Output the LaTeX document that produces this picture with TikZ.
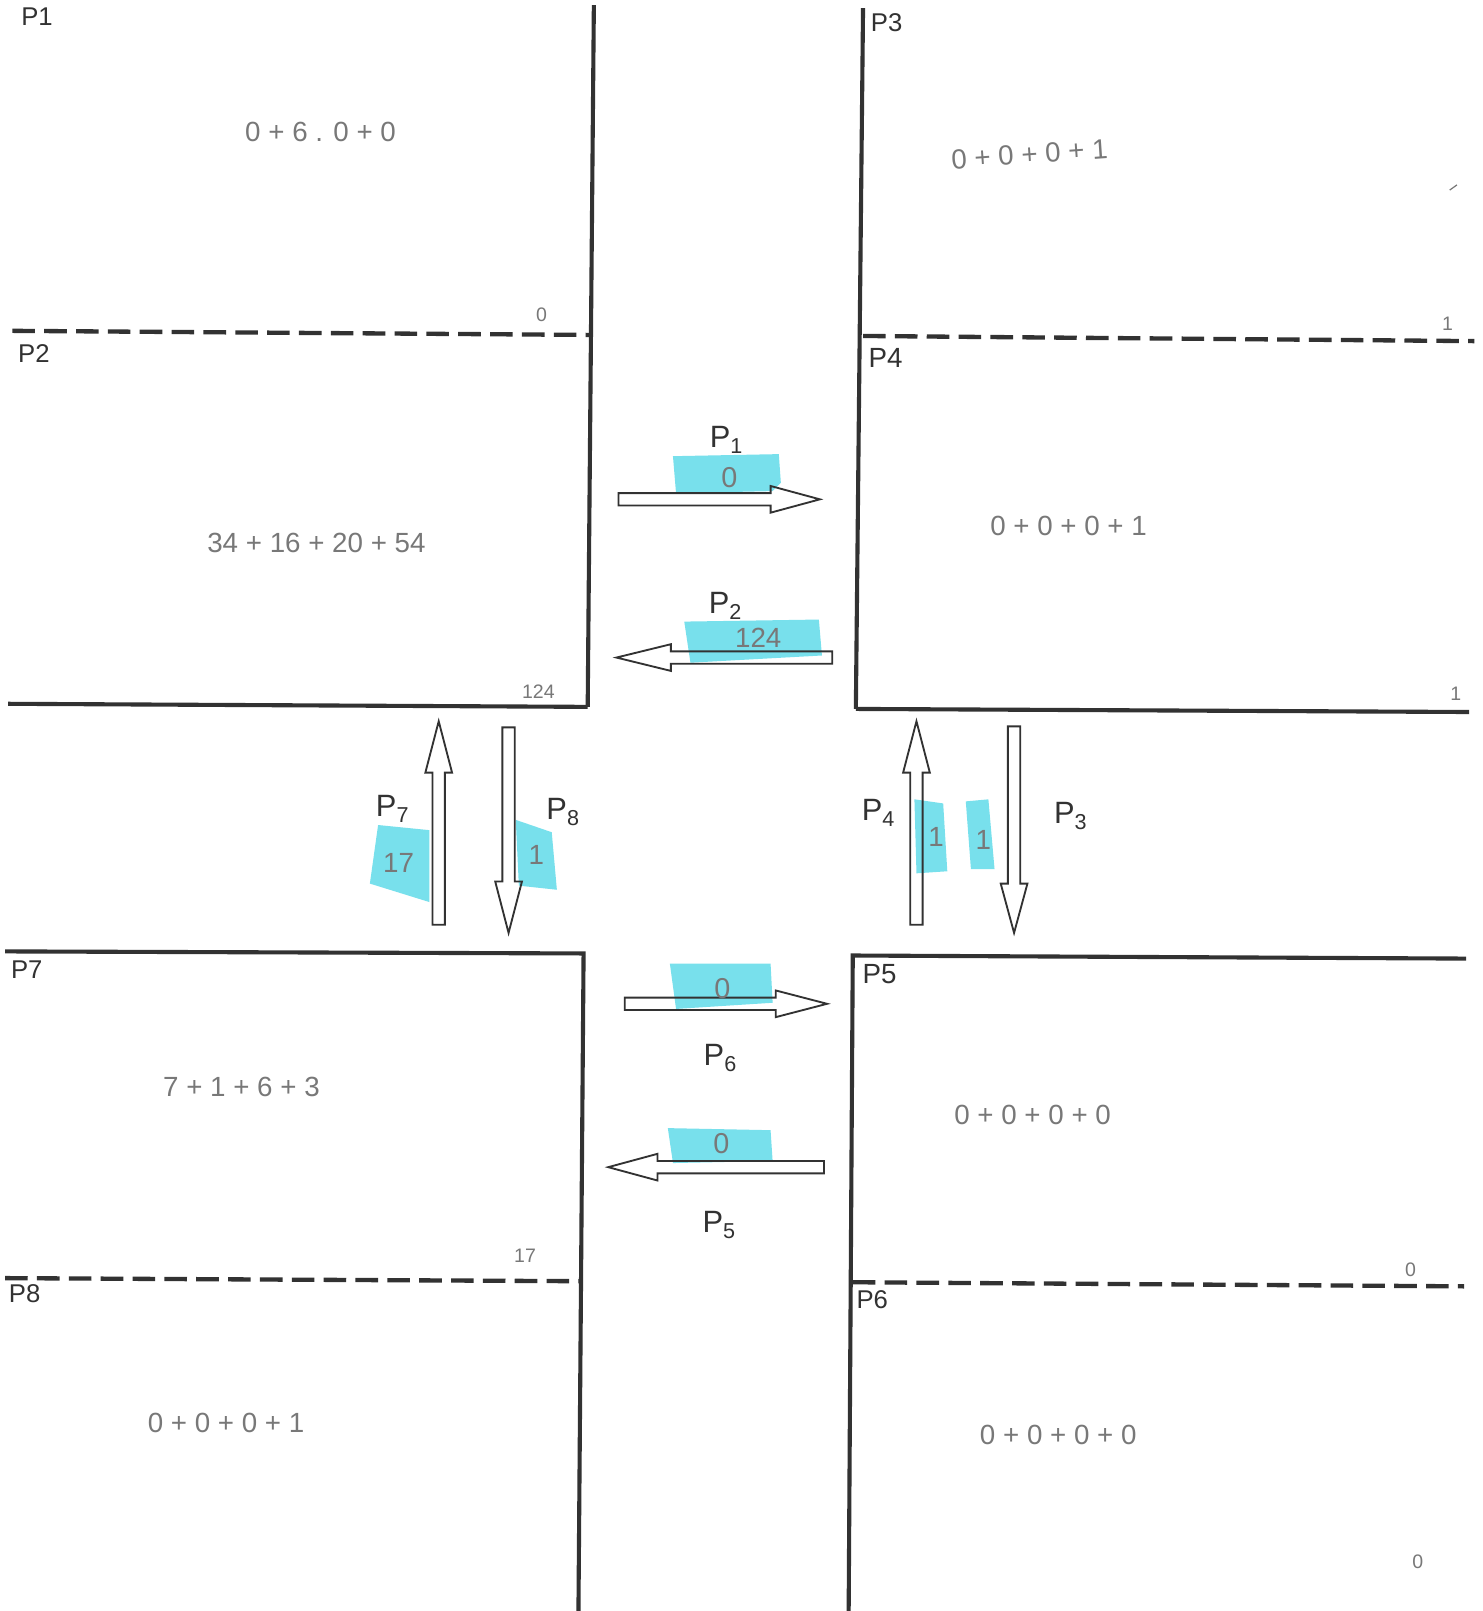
\documentclass[tikz,border=0pt]{standalone}
\usepackage{fontspec}
\setmainfont{Liberation Sans}
\definecolor{ink}{RGB}{50,50,50}
\definecolor{pencil}{RGB}{120,120,120}
\definecolor{hl}{RGB}{120,224,236}
\newcommand{\harr}[4]{\draw[arr] (#1,#4-6)--(#2,#4-6)--(#2,#4-13)--(#3,#4)--(#2,#4+13)--(#2,#4+6)--(#1,#4+6)--cycle;}
\newcommand{\varr}[4]{\draw[arr] (#4-6,#1)--(#4-6,#2)--(#4-13,#2)--(#4,#3)--(#4+13,#2)--(#4+6,#2)--(#4+6,#1)--cycle;}
\begin{document}
\begin{tikzpicture}[x=1pt,y=-1pt,
  wall/.style={draw=ink,line width=4pt},
  divider/.style={draw=ink,line width=4.2pt,dash pattern=on 22pt off 9pt},
  arr/.style={draw=ink,line width=1.8pt,line join=miter},
  blk/.style={font=\fontsize{25}{25}\selectfont,text=ink,inner sep=0pt},
  flow/.style={font=\fontsize{30}{30}\selectfont,text=ink,inner sep=0pt},
  hand/.style={font=\fontsize{27}{27}\selectfont,text=pencil,inner sep=0pt},
  small/.style={font=\fontsize{19}{19}\selectfont,text=pencil,inner sep=0pt},
  hlmark/.style={fill=hl,draw=none}]
\useasboundingbox (0,0) rectangle (1443,1568);
\fill[white] (0,0) rectangle (1443,1568);

% ---- blocks ----
% top-left
\draw[wall] (578,5) -- (572,688);
\draw[wall] (8,685) -- (572,688);
\draw[divider] (12,322) -- (575,326);
% top-right
\draw[wall] (840,8) -- (833,690);
\draw[wall] (833,690) -- (1430,693);
\draw[divider] (840,327) -- (1435,332);
% bottom-left
\draw[wall] (5,926) -- (568,928) -- (563,1568);
\draw[divider] (5,1244) -- (565,1247);
% bottom-right
\draw[wall] (1427,933) -- (830,930) -- (826,1568);
\draw[divider] (830,1248) -- (1425,1252);

% ---- block labels ----
\node[blk] (lP1) at (36,16) {P1};
\node[blk] (lP2) at (33,344) {P2};
\node[blk] (lP3) at (863,22) {P3};
\node[blk,font=\fontsize{27}{27}\selectfont] (lP4) at (862,348) {P4};
\node[blk,font=\fontsize{27}{27}\selectfont] (lP5) at (856,948) {P5};
\node[blk] (lP6) at (849,1265) {P6};
\node[blk] (lP7) at (26,944) {P7};
\node[blk] (lP8) at (24,1259) {P8};

% ---- handwritten sums ----
\node[hand] (s1) at (312,128) {0 + 6 . 0 + 0};
\node[small] (c1) at (527,306) {0};
\node[hand] (s2) at (308,528) {34 + 16 + 20 + 54};
\node[small] (c2) at (524,673) {124};
\node[hand,rotate=4] (s3) at (1002,150) {0 + 0 + 0 + 1};
\draw[pencil,line width=1.2pt] (1411,185) -- (1418,180);
\node[small] (c3) at (1409,315) {1};
\node[hand] (s4) at (1040,512) {0 + 0 + 0 + 1};
\node[small] (c4) at (1417,675) {1};
\node[hand] (s5) at (1005,1085) {0 + 0 + 0 + 0};
\node[small] (c5) at (1373,1236) {0};
\node[hand] (s6) at (1030,1397) {0 + 0 + 0 + 0};
\node[small] (c6) at (1380,1520) {0};
\node[hand] (s7) at (235,1058) {7 + 1 + 6 + 3};
\node[small] (c7) at (511,1222) {17};
\node[hand] (s8) at (220,1385) {0 + 0 + 0 + 1};

% ---- highlights ----
\fill[hlmark] (655,444) -- (758,442) -- (760,470) -- (752,478) -- (658,480) -- cycle;
\fill[hlmark] (666,605) -- (797,603) -- (800,638) -- (672,645) -- cycle;
\fill[hlmark] (368,803) -- (418,808) -- (418,878) -- (360,860) -- cycle;
\fill[hlmark] (502,798) -- (537,810) -- (542,866) -- (505,862) -- cycle;
\fill[hlmark] (890,778) -- (918,782) -- (922,848) -- (892,850) -- cycle;
\fill[hlmark] (940,780) -- (962,778) -- (968,846) -- (945,846) -- cycle;
\fill[hlmark] (652,938) -- (750,938) -- (752,976) -- (658,982) -- cycle;
\fill[hlmark] (650,1098) -- (750,1100) -- (752,1130) -- (655,1132) -- cycle;

% ---- flow arrows ----
\harr{602}{750}{798}{486}
\harr{810}{653}{600}{640}
\varr{900}{752}{702}{427}
\varr{708}{858}{908}{495}
\varr{900}{752}{702}{892}
\varr{707}{860}{908}{987}
\harr{608}{755}{805}{977}
\harr{802}{640}{592}{1136}

% ---- flow labels ----
\node[flow] (f1) at (707,428) {P\textsubscript{1}};
\node[hand,font=\fontsize{28}{28}\selectfont] (v1) at (710,465) {0};
\node[flow] (f2) at (706,590) {P\textsubscript{2}};
\node[hand] (v2) at (738,621) {124};
\node[flow] (f7) at (382,787) {P\textsubscript{7}};
\node[hand] (v7) at (388,840) {17};
\node[flow] (f8) at (548,790) {P\textsubscript{8}};
\node[hand] (v8) at (522,832) {1};
\node[flow] (f4) at (855,791) {P\textsubscript{4}};
\node[hand] (v4) at (911,815) {1};
\node[hand] (v3b) at (957,818) {1};
\node[flow] (f3) at (1042,794) {P\textsubscript{3}};
\node[hand,font=\fontsize{28}{28}\selectfont] (v6) at (703,962) {0};
\node[flow] (f6) at (701,1030) {P\textsubscript{6}};
\node[hand,font=\fontsize{28}{28}\selectfont] (v5) at (702,1113) {0};
\node[flow] (f5) at (700,1192) {P\textsubscript{5}};
\end{tikzpicture}
\end{document}
